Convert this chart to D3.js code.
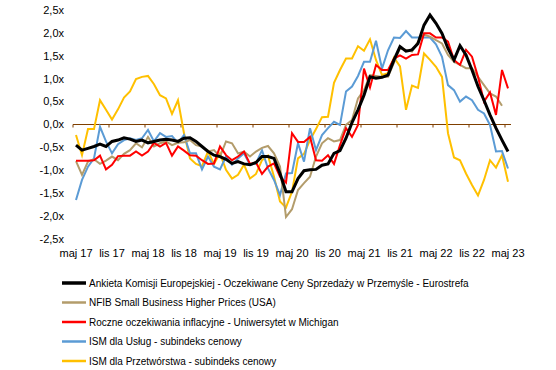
<!DOCTYPE html>
<html>
<head>
<meta charset="utf-8">
<style>
  body { margin: 0; background: #fff; }
  text { font-family: "Liberation Sans", Arial, sans-serif; fill: #000; }
</style>
<title>Oczekiwania cenowe</title>
</head>
<body>
<script src="https://cdn.jsdelivr.net/npm/d3@7"></script>
<script>
// monthly data, maj 2017 .. maj 2023 (73 months)
var tickLabels = ["maj 17", "lis 17", "maj 18", "lis 18", "maj 19", "lis 19", "maj 20",
                  "lis 20", "maj 21", "lis 21", "maj 22", "lis 22", "maj 23"];
var yTicks = [-2.5, -2, -1.5, -1, -0.5, 0, 0.5, 1, 1.5, 2, 2.5];

var ankieta = [-0.45, -0.56, -0.52, -0.48, -0.43, -0.48, -0.37, -0.34, -0.29, -0.32,
  -0.37, -0.34, -0.40, -0.37, -0.34, -0.32, -0.34, -0.37, -0.30, -0.29,
  -0.37, -0.48, -0.59, -0.67, -0.70, -0.76, -0.85, -0.81, -0.86, -0.88,
  -0.83, -0.70, -0.70, -0.74, -1.07, -1.47, -1.47, -1.18, -1.01, -0.99,
  -0.98, -0.89, -0.86, -0.63, -0.57, -0.30, 0.04, 0.32, 0.64, 1.04,
  1.01, 1.03, 1.08, 1.41, 1.70, 1.60, 1.63, 1.77, 2.17, 2.39,
  2.21, 1.99, 1.66, 1.41, 1.72, 1.52, 1.19, 0.83, 0.53, 0.21,
  -0.08, -0.34, -0.59];

var nfib = [-0.80, -1.10, -0.81, -0.76, -0.86, -0.79, -0.70, -0.78, -0.64, -0.56,
  -0.41, -0.50, -0.27, -0.48, -0.41, -0.37, -0.45, -0.40, -0.39, -0.34,
  -0.45, -0.48, -0.59, -0.56, -0.70, -0.37, -0.41, -0.63, -0.59, -0.70,
  -0.59, -0.51, -0.47, -0.63, -0.92, -2.02, -1.85, -1.43, -1.28, -1.14,
  -0.70, -0.41, -0.30, -0.37, -0.34, -0.01, 0.10, 0.57, 0.75, 1.08,
  1.06, 1.04, 1.04, 1.35, 1.66, 1.63, 1.59, 1.81, 1.96, 1.92,
  1.84, 1.77, 1.52, 1.37, 1.30, 1.23, 1.23, 1.04, 0.86, 0.68,
  0.61, 0.41];

var michigan = [-0.79, -0.79, -0.79, -0.78, -0.68, -0.98, -0.88, -0.69, -0.68, -0.68,
  -0.59, -0.68, -0.59, -0.40, -0.48, -0.40, -0.68, -0.48, -0.57, -0.67,
  -0.68, -0.78, -0.86, -0.85, -0.48, -0.67, -0.78, -0.70, -0.59, -0.86,
  -0.83, -1.08, -0.92, -0.85, -1.14, -1.27, -0.19, -0.38, -0.38, -0.27,
  -0.78, -0.79, -0.67, -0.86, -0.45, -0.08, -0.27, -0.01, 1.22, 0.81,
  1.30, 1.19, 1.19, 1.44, 1.51, 1.44, 1.52, 1.53, 1.99, 1.99,
  1.90, 1.90, 1.81, 1.41, 1.30, 1.63, 1.48, 1.04, 0.50, 0.70,
  0.21, 1.19, 0.79];

var ismUslugi = [-1.65, -1.21, -0.92, -0.74, -0.05, -0.37, -0.63, -0.43, -0.34, -0.30,
  -0.34, -0.30, -0.12, -0.37, -0.19, -0.27, -0.25, -0.40, -0.23, -0.63,
  -0.63, -0.98, -0.70, -0.92, -0.98, -0.70, -0.88, -0.74, -0.63, -0.88,
  -0.85, -0.56, -0.96, -1.21, -1.54, -1.07, -1.06, -0.41, -0.81, -0.08,
  -0.56, -0.23, -0.08, 0.06, -0.01, 0.72, 0.83, 1.06, 1.37, 1.37,
  1.83, 1.22, 1.62, 1.90, 1.89, 2.04, 1.90, 1.90, 1.90, 1.90,
  1.75, 1.48, 0.86, 0.75, 0.50, 0.61, 0.53, 0.32, 0.24, -0.01,
  -0.59, -0.58, -0.96];

var ismPrzem = [-0.23, -0.67, -0.10, -0.10, 0.53, 0.32, 0.11, 0.33, 0.59, 0.72,
  0.99, 1.04, 1.06, 0.88, 0.64, 0.57, 0.23, 0.53, -0.19, -0.74,
  -0.86, -0.91, -0.59, -0.86, -0.63, -0.99, -1.18, -1.10, -0.88, -1.18,
  -1.08, -0.78, -0.68, -1.14, -1.68, -1.81, -1.47, -0.74, -0.64, -0.34,
  -0.10, 0.16, 0.17, 0.91, 1.19, 1.44, 1.44, 1.71, 1.61, 1.86,
  1.41, 1.08, 1.12, 1.46, 1.27, 0.32, 0.85, 0.80, 1.55, 1.41,
  1.26, 1.04, -0.19, -0.72, -0.78, -1.07, -1.32, -1.55, -1.21, -0.78,
  -0.94, -0.67, -1.25];

var seriesNames = [
  "Ankieta Komisji Europejskiej - Oczekiwane Ceny Sprzedaży w Przemyśle - Eurostrefa",
  "NFIB Small Business Higher Prices (USA)",
  "Roczne oczekiwania inflacyjne - Uniwersytet w Michigan",
  "ISM dla Usług - subindeks cenowy",
  "ISM dla Przetwórstwa - subindeks cenowy"
];
var seriesValues = [ankieta, nfib, michigan, ismUslugi, ismPrzem];
var seriesColors = ["#000000", "#b39c6b", "#ff0000", "#5b9bd5", "#ffc000"];
var seriesWidths = [3, 2, 2, 2, 2];

var width = 556, height = 370;
var nMonths = 73;

var svg = d3.select("body").append("svg")
  .attr("width", width)
  .attr("height", height);

// category axis, 6px per month
var x = d3.scaleBand()
  .domain(d3.range(nMonths))
  .range([73, 511]);

var y = d3.scaleLinear()
  .domain([-2.5, 2.5])
  .range([239, 10]);

var fmt = function(v) { return d3.format(".1f")(v).replace(".", ",").replace("−", "-") + "x"; };

// y labels (no axis line)
svg.append("g").selectAll("text")
  .data(yTicks)
  .enter().append("text")
  .attr("x", 64)
  .attr("y", function(d) { return y(d); })
  .attr("dy", "0.35em")
  .attr("text-anchor", "end")
  .attr("font-size", 11)
  .text(fmt);

// horizontal axis at zero
var zeroY = y(0);
svg.append("line")
  .attr("x1", x.range()[0]).attr("x2", x.range()[1])
  .attr("y1", zeroY).attr("y2", zeroY)
  .attr("stroke", "#7f3f00").attr("stroke-width", 1);

var tickIdx = d3.range(0, nMonths, 6);
svg.append("g").selectAll("line")
  .data(tickIdx)
  .enter().append("line")
  .attr("x1", function(d) { return x(d); })
  .attr("x2", function(d) { return x(d); })
  .attr("y1", zeroY).attr("y2", zeroY + 3)
  .attr("stroke", "#7f3f00").attr("stroke-width", 1);

svg.append("g").selectAll("text")
  .data(tickIdx)
  .enter().append("text")
  .attr("x", function(d) { return x(d) + x.bandwidth() / 2; })
  .attr("y", 253)
  .attr("dy", "0.35em")
  .attr("text-anchor", "middle")
  .attr("font-size", 11)
  .text(function(d, i) { return tickLabels[i]; });

// lines, drawn back to front so black is on top
var line = d3.line()
  .x(function(d, i) { return x(i) + x.bandwidth() / 2; })
  .y(function(d) { return y(d); });

var order = [4, 3, 1, 2, 0];
svg.append("g").selectAll("path")
  .data(order)
  .enter().append("path")
  .attr("d", function(k) { return line(seriesValues[k]); })
  .attr("fill", "none")
  .attr("stroke", function(k) { return seriesColors[k]; })
  .attr("stroke-width", function(k) { return seriesWidths[k]; })
  .attr("stroke-linejoin", "miter");

// legend
var legend = svg.append("g").selectAll("g")
  .data(seriesNames)
  .enter().append("g")
  .attr("transform", function(d, i) { return "translate(0," + (283 + i * 19.5) + ")"; });

legend.append("line")
  .attr("x1", 62).attr("x2", 86)
  .attr("stroke", function(d, i) { return seriesColors[i]; })
  .attr("stroke-width", function(d, i) { return seriesWidths[i] + 0.5; });

legend.append("text")
  .attr("x", 89)
  .attr("dy", "0.35em")
  .attr("font-size", 10)
  .text(function(d) { return d; });
</script>
</body>
</html>
